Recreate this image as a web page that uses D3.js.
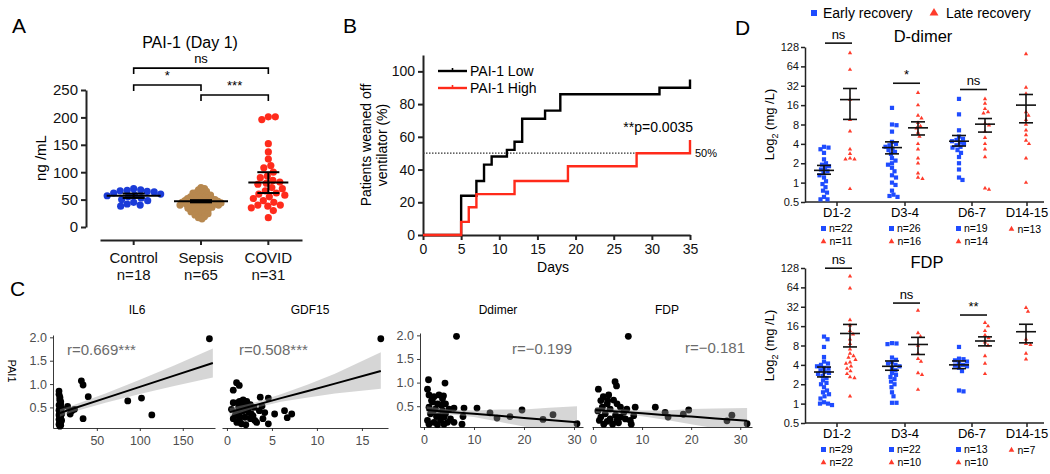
<!DOCTYPE html>
<html>
<head>
<meta charset="utf-8">
<script src="https://cdn.jsdelivr.net/npm/d3@7"></script>
<style>
  body { margin: 0; background: #fff; }
  svg { font-family: "Liberation Sans", Arial, sans-serif; }
</style>
</head>
<body>
<svg id="fig" width="1050" height="474"></svg>
<script>
// ---------------- Panel A data ----------------
const groupsA = ["Control", "Sepsis", "COVID"];
const groupN = ["n=18", "n=65", "n=31"];
const controlVals = [70, 68, 67, 66, 65, 64, 62, 60, 58, 57, 55, 53, 50, 48, 45, 42, 40, 38];
const sepsisVals = [72, 70, 68, 66, 65, 63, 62, 61, 60, 59, 58, 57, 56, 55, 55, 54, 53, 52, 52, 51,
  50, 50, 49, 49, 48, 48, 47, 47, 46, 46, 45, 45, 44, 44, 43, 43, 42, 42, 41, 41,
  40, 40, 39, 38, 38, 37, 36, 36, 35, 34, 33, 32, 31, 30, 29, 28, 27, 26, 25, 24,
  22, 21, 19, 17, 15];
const covidVals = [201, 201, 196, 152, 137, 124, 112, 108, 100, 93, 90, 85, 82, 80, 78, 72, 70,
  66, 62, 60, 58, 55, 52, 48, 45, 40, 40, 38, 35, 30, 17];
const meanA = [57, 47, 81];
const errLoA = [53, 45, 62];
const errHiA = [61, 49, 100];
const yTicksA = [0, 50, 100, 150, 200, 250];
const compsA = [[0, 2, "ns", 290], [0, 1, "*", 259], [1, 2, "***", 241]];

// ---------------- Panel B data ----------------
const lowDays = [0, 5, 7, 8, 9, 11, 12, 13, 16, 18, 31, 35];
const lowPct = [0, 24, 33, 43, 48, 52, 57, 71, 76, 86, 90, 95];
const highDays = [0, 5, 6, 7, 12, 19, 28, 35];
const highPct = [0, 8, 17, 25, 33, 42, 50, 58];
const seriesB = ["PAI-1 Low", "PAI-1 High"];
const xTicksB = [0, 5, 10, 15, 20, 25, 30, 35];
const yTicksB = [0, 20, 40, 60, 80, 100];

// ---------------- Panel C data ----------------
const il6X = [6, 6, 7, 7, 7, 8, 8, 6, 7, 8, 9, 7, 6, 8, 7, 7, 9, 6, 8, 7, 7, 8, 6, 9, 7, 8, 7, 6, 8, 7,
  16, 19, 24, 21, 32, 34, 34, 40, 86, 102, 114, 181];
const il6Y = [0.85, 0.78, 0.72, 0.68, 0.65, 0.62, 0.58, 0.55, 0.52, 0.5, 0.48, 0.46, 0.44, 0.42, 0.4,
  0.38, 0.36, 0.34, 0.32, 0.3, 0.28, 0.26, 0.24, 0.22, 0.2, 0.18, 0.16, 0.14, 0.12, 0.1,
  0.52, 0.36, 0.46, 0.43, 1.07, 0.98, 0.26, 0.73, 0.64, 0.70, 0.34, 1.97];
const il6FitX = [7, 20, 60, 100, 140, 185];
const il6Fit = [0.38, 0.46, 0.70, 0.94, 1.18, 1.45];
const il6Lo = [0.30, 0.39, 0.60, 0.79, 0.96, 1.14];
const il6Hi = [0.46, 0.53, 0.80, 1.09, 1.40, 1.76];

const gdfX = [0.7, 1.07, 1.37, 0.5, 1.4, 1.8, 2.2, 2.6, 1.7, 1.3, 1.0, 1.4, 2.0, 2.6, 2.9, 3.3, 0.7, 1.1,
  1.6, 2.1, 3.7, 4.6, 3.9, 4.2, 3.6, 4.0, 4.6, 3.0, 5.3, 6.4, 6.7, 7.2, 2.3, 1.8, 0.7, 2.7, 1.4, 17.1,
  1.2, 2.4, 1.5, 3.1, 0.9, 2.0];
const gdfY = [0.87, 1.03, 0.97, 0.46, 0.63, 0.66, 0.63, 0.56, 0.54, 0.5, 0.39, 0.32, 0.29, 0.26, 0.32,
  0.18, 0.26, 0.18, 0.15, 0.13, 0.72, 0.70, 0.53, 0.39, 0.43, 0.26, 0.15, 0.5, 0.36, 0.43, 0.28, 0.36,
  0.46, 0.43, 0.6, 0.36, 0.22, 1.97, 0.6, 0.4, 0.45, 0.22, 0.32, 0.52];
const gdfFitX = [0.3, 3, 6, 9, 12, 17.1];
const gdfFit = [0.40, 0.54, 0.70, 0.85, 1.01, 1.28];
const gdfLo = [0.31, 0.48, 0.62, 0.71, 0.80, 0.90];
const gdfHi = [0.49, 0.60, 0.78, 0.99, 1.22, 1.68];

const ddX = [6.5, 0.9, 0.7, 4.2, 1.0, 2.0, 3.0, 3.7, 1.7, 2.7, 4.3, 1.0, 2.3, 3.7, 5.0, 1.3, 3.0, 4.3, 0.7,
  2.0, 3.3, 4.7, 1.0, 2.7, 4.0, 5.3, 6.0, 6.0, 7.6, 8.0, 7.8, 10.6, 13.2, 14.6, 17.2, 19.6, 23.8, 25.8,
  30.6, 1.5, 2.5, 3.5, 4.0, 1.8, 3.9];
const ddY = [1.98, 1.06, 0.86, 0.99, 0.74, 0.70, 0.74, 0.66, 0.59, 0.55, 0.55, 0.48, 0.44, 0.41, 0.44,
  0.34, 0.30, 0.34, 0.20, 0.16, 0.20, 0.16, 0.12, 0.11, 0.12, 0.23, 0.46, 0.16, 0.12, 0.46, 0.28, 0.46,
  0.36, 0.25, 0.28, 0.42, 0.22, 0.32, 0.13, 0.62, 0.28, 0.52, 0.27, 0.38, 0.72];
const ddFitX = [0.5, 5, 10, 15, 20, 25, 30.6];
const ddFit = [0.42, 0.38, 0.34, 0.30, 0.25, 0.21, 0.16];
const ddLo = [0.34, 0.33, 0.27, 0.17, 0.07, -0.05, -0.18];
const ddHi = [0.50, 0.43, 0.41, 0.43, 0.43, 0.47, 0.50];

const fdpX = [7.2, 4.5, 4.8, 1.1, 2.1, 3.2, 4.2, 1.6, 2.9, 4.9, 1.9, 3.5, 5.6, 2.5, 4.6, 6.3, 1.6, 3.5,
  5.6, 1.3, 2.9, 4.9, 6.6, 7.6, 6.9, 8.6, 8.3, 12.7, 14.7, 15.3, 18.4, 19.5, 27.3, 28.3, 31.4,
  2.2, 4.0, 5.2, 1.0, 3.0, 7.8];
const fdpY = [1.98, 1.02, 0.93, 0.86, 0.70, 0.74, 0.63, 0.62, 0.55, 0.55, 0.48, 0.44, 0.48, 0.34, 0.31,
  0.37, 0.27, 0.23, 0.27, 0.20, 0.18, 0.20, 0.23, 0.20, 0.44, 0.48, 0.30, 0.48, 0.37, 0.27, 0.33, 0.42,
  0.19, 0.31, 0.13, 0.12, 0.12, 0.15, 0.4, 0.62, 0.12];
const fdpFitX = [0.5, 5, 10, 15, 20, 25, 31.4];
const fdpFit = [0.42, 0.39, 0.35, 0.31, 0.28, 0.24, 0.19];
const fdpLo = [0.35, 0.34, 0.29, 0.21, 0.12, 0.03, -0.08];
const fdpHi = [0.49, 0.44, 0.41, 0.41, 0.44, 0.45, 0.46];
const yTicksC = [0.5, 1.0, 1.5, 2.0];

// ---------------- Panel D data ----------------
const catsD = ["D1-2", "D3-4", "D6-7", "D14-15"];
const yTicksD = [0.5, 1, 2, 4, 8, 16, 32, 64, 128];
const ddEarly = [
  [3.6, 3.5, 3.3, 2.9, 2.3, 2.0, 1.9, 1.8, 1.7, 1.6, 1.5, 1.4, 1.3, 1.2, 1.05, 0.95, 0.85, 0.75, 0.7, 0.6, 0.55, 0.55],
  [14.5, 8, 7.8, 6.2, 4.3, 4.0, 3.8, 3.6, 3.4, 3.2, 3.0, 2.8, 2.4, 2.2, 2.0, 1.9, 1.7, 1.5, 1.3, 1.2, 1.0, 0.92, 0.75, 0.65, 0.62, 0.6],
  [20, 11.5, 6.5, 5.2, 4.8, 4.6, 4.4, 4.2, 4.0, 3.8, 3.6, 3.5, 3.2, 2.9, 2.5, 2.0, 1.6, 1.2, 1.1],
  []];
const ddLate = [
  [103, 57, 19.5, 9.5, 6.3, 3.3, 2.8, 2.4, 2.3, 2.3, 0.8],
  [25, 16, 11, 10, 8.5, 7.5, 7, 6, 5.2, 4, 3.3, 2.4, 2.0, 1.4, 1.2, 1.15],
  [20, 17, 14, 12.5, 12, 8.3, 7.8, 6.2, 5.0, 4.0, 3.3, 2.5, 0.82, 0.78],
  [100, 30, 24, 12.5, 11, 9.5, 8, 6.5, 5.5, 4.5, 4.0, 2.4, 1.0]];
const ddEarlyStat = [[1.55, 1.35, 1.85], [3.5, 2.8, 4.3], [4.4, 3.7, 5.4], null];
const ddLateStat = [[19.5, 9.6, 29], [7.1, 5.5, 8.8], [8.1, 6.1, 9.9], [16, 8.5, 23.4]];
const ddSig = [["D1-2", "ns", 147], ["D3-4", "*", 35], ["D6-7", "ns", 28]];
const ddNEarly = [22, 26, 19, null];
const ddNLate = [11, 16, 14, 13];

const fdEarly = [
  [11, 10, 7.6, 5.3, 4.5, 4.2, 4.0, 3.8, 3.6, 3.5, 3.3, 3.1, 3.0, 2.9, 2.7, 2.5, 2.3, 2.1, 2.0, 1.8, 1.6, 1.5, 1.4, 1.3, 1.2, 1.05, 1.0, 1.0, 0.95],
  [8.7, 8.6, 8.4, 5.2, 4.8, 4.4, 4.2, 4.0, 3.8, 3.6, 3.3, 3.0, 2.8, 2.6, 2.4, 2.2, 2.0, 1.8, 1.5, 1.3, 1.03, 1.03],
  [7.6, 5.0, 4.9, 4.7, 4.5, 4.2, 4.0, 3.9, 3.8, 3.6, 3.2, 1.6, 1.55],
  []];
const fdLate = [
  [95, 62, 20, 16.5, 13.5, 12, 10, 8.5, 7, 6, 5.5, 5.2, 4.8, 4.4, 4.2, 3.8, 3.5, 3.2, 2.9, 2.6, 2.5, 1.3],
  [28, 12.5, 11, 8, 6, 5, 4.5, 3, 2.8, 1.65],
  [18, 16, 13.5, 11.5, 10.5, 9, 8, 5.5, 4.2, 2.9],
  [31, 27, 10, 8.5, 8.2, 6, 4.9]];
const fdEarlyStat = [[3.1, 2.6, 3.7], [3.8, 3.3, 4.6], [4.0, 3.5, 4.6], null];
const fdLateStat = [[12.3, 7.6, 17], [8.3, 5.8, 10.7], [9.4, 7.9, 10.9], [13.1, 8.8, 17.1]];
const fdSig = [["D1-2", "ns", 127], ["D3-4", "ns", 36.5], ["D6-7", "**", 23.8]];
const fdNEarly = [29, 22, 13, null];
const fdNLate = [22, 10, 10, 7];

// ---------------- helpers ----------------
const FONT = "'Liberation Sans', Arial, sans-serif";
const svg = d3.select("#fig");

function styleAxis(g, sw, size, color, textColor) {
  g.attr("font-family", FONT).attr("font-size", size);
  g.select(".domain").attr("stroke", color).attr("stroke-width", sw);
  g.selectAll(".tick line").attr("stroke", color).attr("stroke-width", sw);
  g.selectAll(".tick text").attr("fill", textColor);
}

// simple deterministic beeswarm: push points sideways until they no longer overlap
function swarm(vals, yScale, cx, dist) {
  const placed = [];
  vals.map(v => ({ v, y: yScale(v) }))
    .sort((a, b) => a.y - b.y)
    .forEach(p => {
      p.x = cx;
      for (let s = 0; s < 400; s++) {
        const x = cx + Math.ceil(s / 2) * (s % 2 ? 1 : -1) * 0.5;
        if (placed.every(q => (q.x - x) ** 2 + (q.y - p.y) ** 2 >= dist * dist)) { p.x = x; break; }
      }
      placed.push(p);
    });
  return placed;
}

function label(x, y, txt, size, opts = {}) {
  return svg.append("text")
    .attr("x", x).attr("y", y)
    .attr("text-anchor", opts.anchor || "start")
    .attr("fill", opts.fill || "#000")
    .style("font-size", size + "px")
    .text(txt);
}

// panel letters
label(12, 33, "A", 21);
label(343, 33, "B", 21);
label(10, 296, "C", 21);
label(735, 35, "D", 21);

// ================= Panel A =================
const yA = d3.scaleLinear().domain([0, 250]).range([227, 90]);
const xA = d3.scaleBand().domain(groupsA).range([100, 302]);
const cxA = g => xA(g) + xA.bandwidth() / 2;
const colorA = ["#1b3cd8", "#b7884f", "#ff2b1c"];

label(190, 48, "PAI-1 (Day 1)", 16, { anchor: "middle" });

const gAy = svg.append("g").attr("transform", "translate(86,0)")
  .call(d3.axisLeft(yA).tickValues(yTicksA).tickSize(5).tickSizeOuter(0).tickPadding(3));
styleAxis(gAy, 2, 15, "#222", "#111");

const gAx = svg.append("g").attr("transform", "translate(0,240)")
  .call(d3.axisBottom(xA).tickSize(5).tickSizeOuter(0));
styleAxis(gAx, 2, 15, "#222", "#111");
gAx.selectAll(".tick text").each(function(d, i) {
  const t = d3.select(this).text(null).attr("y", 23).attr("dy", null);
  t.append("tspan").attr("x", 0).text(d);
  t.append("tspan").attr("x", 0).attr("dy", 17).text(groupN[i]);
});

svg.append("text")
  .attr("transform", "translate(46,158) rotate(-90)")
  .attr("text-anchor", "middle")
  .style("font-size", "15px")
  .text("ng /mL");

// dots
[controlVals, sepsisVals, covidVals].forEach((vals, i) => {
  const dist = [6.6, 3.2, 7][i];
  const pts = swarm(vals, yA, cxA(groupsA[i]), dist);
  svg.append("g").selectAll("circle")
    .data(pts).enter().append("circle")
    .attr("cx", d => d.x)
    .attr("cy", d => d.y)
    .attr("r", 3.6)
    .attr("fill", colorA[i]);
});

// mean and error bars
groupsA.forEach((g, i) => {
  const cx = cxA(g);
  const hw = i === 2 ? 20 : 27;
  const gg = svg.append("g").attr("stroke", "#000").attr("stroke-width", 2);
  gg.append("line").attr("x1", cx - hw).attr("x2", cx + hw).attr("y1", yA(meanA[i])).attr("y2", yA(meanA[i]));
  gg.append("line").attr("x1", cx).attr("x2", cx).attr("y1", yA(errLoA[i])).attr("y2", yA(errHiA[i]));
  [errLoA[i], errHiA[i]].forEach(v => {
    gg.append("line").attr("x1", cx - 11).attr("x2", cx + 11).attr("y1", yA(v)).attr("y2", yA(v));
  });
});

// significance brackets
compsA.forEach(([a, b, txt, lvl]) => {
  const x1 = cxA(groupsA[a]), x2 = cxA(groupsA[b]), y = yA(lvl);
  svg.append("path")
    .attr("d", `M${x1},${y + 6}V${y}H${x2}V${y + 6}`)
    .attr("fill", "none").attr("stroke", "#000").attr("stroke-width", 1.6);
  label((x1 + x2) / 2, y - 5, txt, 13, { anchor: "middle" });
});

// ================= Panel B =================
const xB = d3.scaleLinear().domain([0, 35]).range([423, 690]);
const yB = d3.scaleLinear().domain([0, 110]).range([235, 55]);
const colorB = ["#000", "#ff2a1a"];

const gBy = svg.append("g").attr("transform", "translate(423,0)")
  .call(d3.axisLeft(yB).tickValues(yTicksB).tickSize(5).tickSizeOuter(0).tickPadding(3));
styleAxis(gBy, 2, 14, "#222", "#111");
const gBx = svg.append("g").attr("transform", "translate(0,235)")
  .call(d3.axisBottom(xB).tickValues(xTicksB).tickSize(5).tickSizeOuter(0).tickPadding(4));
styleAxis(gBx, 2, 14, "#222", "#111");

label(553, 272, "Days", 14, { anchor: "middle" });
const yl = svg.append("text")
  .attr("transform", "translate(371,145) rotate(-90)")
  .attr("text-anchor", "middle")
  .style("font-size", "14px");
yl.append("tspan").attr("x", 0).text("Patients weaned off");
yl.append("tspan").attr("x", 0).attr("dy", 16).text("ventilator (%)");

// 50% reference line
svg.append("line")
  .attr("x1", xB(0)).attr("x2", xB(35))
  .attr("y1", yB(50)).attr("y2", yB(50))
  .attr("stroke", "#333").attr("stroke-width", 1.3)
  .attr("stroke-dasharray", "1.5,1.5");
label(695, 157, "50%", 11);

const stepLine = d3.line().x(d => xB(d[0])).y(d => yB(d[1])).curve(d3.curveStepAfter);
[[lowDays, lowPct], [highDays, highPct]].forEach(([days, pct], i) => {
  svg.append("path")
    .datum(days.map((d, j) => [d, pct[j]]))
    .attr("d", stepLine)
    .attr("fill", "none")
    .attr("stroke", colorB[i])
    .attr("stroke-width", 2.4);
});

label(693, 132, "**p=0.0035", 14, { anchor: "end" });

// legend
seriesB.forEach((s, i) => {
  const y = 71 + i * 17;
  svg.append("line").attr("x1", 438).attr("x2", 467).attr("y1", y).attr("y2", y)
    .attr("stroke", colorB[i]).attr("stroke-width", 2.4);
  svg.append("line").attr("x1", 452.5).attr("x2", 452.5).attr("y1", y - 3).attr("y2", y)
    .attr("stroke", colorB[i]).attr("stroke-width", 1.6);
  label(470, y + 5, s, 14);
});

// ================= Panel C =================
const yCtop = d3.scaleLinear().domain([0.06, 2.05]).range([428, 335]);
const yCbot = d3.scaleLinear().domain([0.06, 2.05]).range([427, 333]);

function scatterPanel(cfg) {
  const x = d3.scaleLinear().domain(cfg.xDom).range(cfg.xRange);
  const y = cfg.y;
  const g = svg.append("g");
  const clipId = "clip" + cfg.id;
  svg.append("clipPath").attr("id", clipId).append("rect")
    .attr("x", cfg.xRange[0]).attr("y", y.range()[1])
    .attr("width", cfg.xRange[1] - cfg.xRange[0])
    .attr("height", y.range()[0] - y.range()[1]);

  // axes
  const gx = g.append("g").attr("transform", `translate(0,${y.range()[0]})`)
    .call(d3.axisBottom(x).tickValues(cfg.xTicks).tickSize(3).tickSizeOuter(0).tickPadding(5));
  styleAxis(gx, 0.9, 12.5, "#222", "#4d4d4d");
  if (cfg.showY) {
    const gy = g.append("g").attr("transform", `translate(${cfg.xRange[0]},0)`)
      .call(d3.axisLeft(y).tickValues(yTicksC).tickFormat(d3.format(".1f")).tickSize(3).tickSizeOuter(0).tickPadding(3));
    styleAxis(gy, 0.9, 12.5, "#222", "#4d4d4d");
  }

  // points
  g.append("g").selectAll("circle")
    .data(cfg.px.map((v, i) => [v, cfg.py[i]]))
    .enter().append("circle")
    .attr("cx", d => x(d[0]))
    .attr("cy", d => y(d[1]))
    .attr("r", 3.4)
    .attr("fill", "#000");

  // confidence band then fit line
  const fit = cfg.fx.map((v, i) => ({ x: v, f: cfg.fy[i], lo: cfg.lo[i], hi: cfg.hi[i] }));
  g.append("path").datum(fit)
    .attr("clip-path", `url(#${clipId})`)
    .attr("d", d3.area().x(d => x(d.x)).y0(d => y(d.lo)).y1(d => y(d.hi)))
    .attr("fill", "#999").attr("fill-opacity", 0.4);
  g.append("path").datum(fit)
    .attr("d", d3.line().x(d => x(d.x)).y(d => y(d.f)))
    .attr("fill", "none").attr("stroke", "#000").attr("stroke-width", 2);

  label(cfg.titleX, 314, cfg.title, 12, { anchor: "middle" });
  label(cfg.rX, cfg.rY, cfg.r, 15, { fill: "#6b6b6b" });
}

scatterPanel({ id: 1, xDom: [-1, 187.5], xRange: [53, 215], y: yCtop, xTicks: [50, 100, 150], showY: true,
  px: il6X, py: il6Y, fx: il6FitX, fy: il6Fit, lo: il6Lo, hi: il6Hi,
  title: "IL6", titleX: 137, r: "r=0.669***", rX: 67, rY: 355 });
scatterPanel({ id: 2, xDom: [-0.55, 17.9], xRange: [222, 388], y: yCtop, xTicks: [0, 5, 10, 15], showY: false,
  px: gdfX, py: gdfY, fx: gdfFitX, fy: gdfFit, lo: gdfLo, hi: gdfHi,
  title: "GDF15", titleX: 310, r: "r=0.508***", rX: 239, rY: 355 });
scatterPanel({ id: 3, xDom: [-0.8, 31.8], xRange: [420, 583], y: yCbot, xTicks: [0, 10, 20, 30], showY: true,
  px: ddX, py: ddY, fx: ddFitX, fy: ddFit, lo: ddLo, hi: ddHi,
  title: "Ddimer", titleX: 498, r: "r=\u22120.199", rX: 512, rY: 354 });
scatterPanel({ id: 4, xDom: [-0.2, 32.4], xRange: [592, 752], y: yCbot, xTicks: [0, 10, 20, 30], showY: false,
  px: fdpX, py: fdpY, fx: fdpFitX, fy: fdpFit, lo: fdpLo, hi: fdpHi,
  title: "FDP", titleX: 667, r: "r=\u22120.181", rX: 685, rY: 353 });

svg.append("text")
  .attr("transform", "translate(8,371) rotate(90)")
  .attr("text-anchor", "middle")
  .style("font-size", "11px")
  .text("PAI1");

// ================= Panel D =================
const xD = d3.scaleOrdinal().domain(catsD).range([837, 905, 972, 1027]);
const colorEarly = "#1f4cff", colorLate = "#ff3b2b";

// legend
svg.append("rect").attr("x", 811).attr("y", 10).attr("width", 6).attr("height", 6).attr("fill", colorEarly);
label(823, 18, "Early recovery", 14);
svg.append("path").attr("d", d3.symbol(d3.symbolTriangle, 34)()).attr("transform", "translate(934,13)").attr("fill", colorLate);
label(946, 18, "Late recovery", 14);

function tri(sel, size) {
  return sel.append("path").attr("d", d3.symbol(d3.symbolTriangle, size)()).attr("fill", colorLate);
}

function dotPanel(cfg) {
  const y = d3.scaleLog().base(2).domain([0.5, 128]).range(cfg.yRange);
  const y0 = cfg.yRange[0];

  label(cfg.titleX, cfg.titleY, cfg.title, 16.5, { anchor: "middle" });

  const gy = svg.append("g").attr("transform", "translate(805,0)")
    .call(d3.axisLeft(y).tickValues(yTicksD).tickFormat(d => d).tickSize(4).tickSizeOuter(0).tickPadding(2));
  styleAxis(gy, 1.5, 11, "#222", "#111");

  const gx = svg.append("g").attr("transform", `translate(0,${y0})`);
  gx.append("line").attr("x1", 805).attr("x2", 1044).attr("stroke", "#222").attr("stroke-width", 1.5);
  catsD.forEach(c => {
    gx.append("line").attr("x1", xD(c)).attr("x2", xD(c)).attr("y2", 4).attr("stroke", "#222").attr("stroke-width", 1.5);
    gx.append("text").attr("x", xD(c)).attr("y", 15).attr("text-anchor", "middle").style("font-size", "13px").text(c);
  });

  const yl = svg.append("text")
    .attr("transform", `translate(774,${(cfg.yRange[0] + cfg.yRange[1]) / 2}) rotate(-90)`)
    .attr("text-anchor", "middle").style("font-size", "13px");
  yl.append("tspan").text("Log");
  yl.append("tspan").attr("dy", 4).style("font-size", "9px").text("2");
  yl.append("tspan").attr("dy", -4).text(" (mg /L)");

  catsD.forEach((c, i) => {
    const both = cfg.early[i].length > 0;
    const xe = xD(c) - 13, xl = both ? xD(c) + 13 : xD(c) - 1;
    const ge = swarm(cfg.early[i], y, xe, 4.2);
    svg.append("g").selectAll("rect").data(ge).enter().append("rect")
      .attr("x", d => d.x - 2.1).attr("y", d => d.y - 2.1)
      .attr("width", 4.2).attr("height", 4.2).attr("fill", colorEarly);
    const gl = swarm(cfg.late[i], y, xl, 4.2);
    svg.append("g").selectAll("path").data(gl).enter().append("path")
      .attr("d", d3.symbol(d3.symbolTriangle, 8)())
      .attr("transform", d => `translate(${d.x},${d.y})`)
      .attr("fill", colorLate);

    [[cfg.earlyStat[i], xe], [cfg.lateStat[i], xl]].forEach(([st, cx]) => {
      if (!st) return;
      const gg = svg.append("g").attr("stroke", "#111").attr("stroke-width", 1.6);
      gg.append("line").attr("x1", cx - 10).attr("x2", cx + 10).attr("y1", y(st[0])).attr("y2", y(st[0]));
      gg.append("line").attr("x1", cx).attr("x2", cx).attr("y1", y(st[1])).attr("y2", y(st[2]));
      [st[1], st[2]].forEach(v => gg.append("line").attr("x1", cx - 7).attr("x2", cx + 7).attr("y1", y(v)).attr("y2", y(v)));
    });

    // n labels
    let row = 0;
    if (cfg.nEarly[i] !== null) {
      svg.append("rect").attr("x", xD(c) - 16).attr("y", y0 + 24).attr("width", 5).attr("height", 5).attr("fill", colorEarly);
      label(xD(c) - 8, y0 + 30, "n=" + cfg.nEarly[i], 10.5);
      row = 1;
    }
    const ty = y0 + 27 + row * 12.5;
    const tx = row ? xD(c) - 13.5 : xD(c) - 15.5;
    tri(svg, 14).attr("transform", `translate(${tx},${ty})`);
    label(tx + 6, ty + 3.5, "n=" + cfg.nLate[i], 10.5);
  });

  cfg.sig.forEach(([c, txt, v]) => {
    const yy = y(v);
    svg.append("line").attr("x1", xD(c) - 12).attr("x2", xD(c) + 15).attr("y1", yy).attr("y2", yy)
      .attr("stroke", "#111").attr("stroke-width", 1.6);
    label(xD(c) + 1.5, yy - 4, txt, 13, { anchor: "middle" });
  });
}

dotPanel({ yRange: [202, 47], title: "D-dimer", titleX: 923, titleY: 42,
  early: ddEarly, late: ddLate, earlyStat: ddEarlyStat, lateStat: ddLateStat,
  sig: ddSig, nEarly: ddNEarly, nLate: ddNLate });
dotPanel({ yRange: [423, 268], title: "FDP", titleX: 927, titleY: 268,
  early: fdEarly, late: fdLate, earlyStat: fdEarlyStat, lateStat: fdLateStat,
  sig: fdSig, nEarly: fdNEarly, nLate: fdNLate });
</script>
</body>
</html>
